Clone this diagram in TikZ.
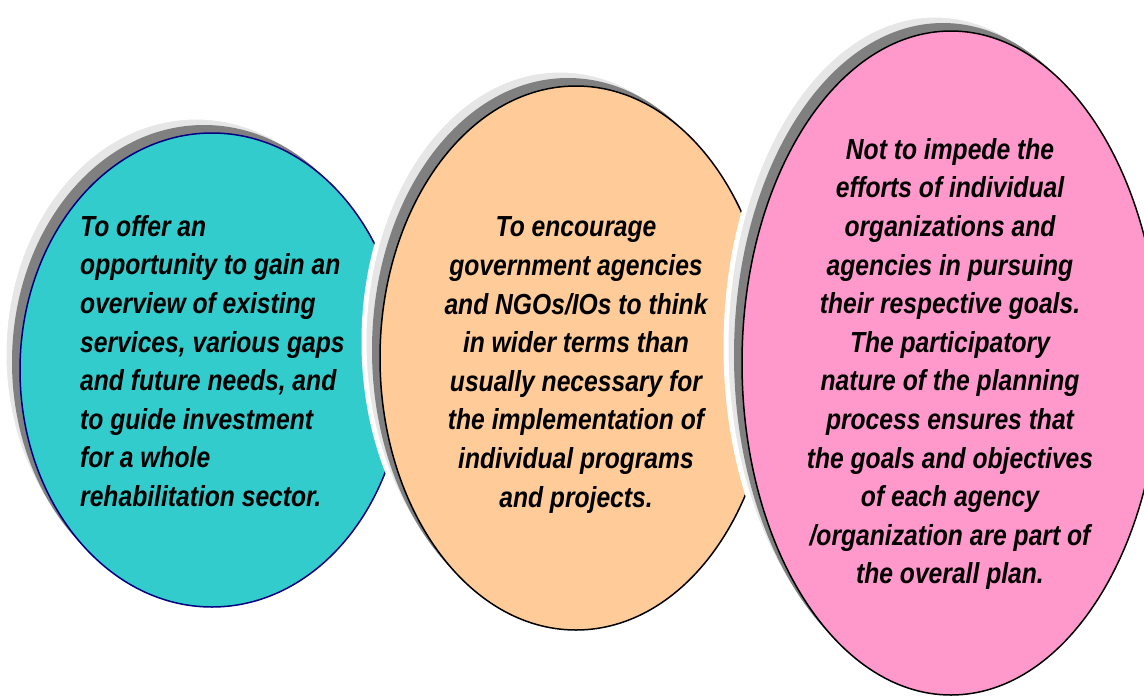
\documentclass[tikz,border=0pt]{standalone}
\usepackage{fontspec}
\setmainfont{Liberation Sans}[FakeStretch=0.85]
\usetikzlibrary{shapes.geometric}
\definecolor{tealfill}{HTML}{33CCCC}
\definecolor{orangefill}{HTML}{FFCC99}
\definecolor{pinkfill}{HTML}{FF99CC}
\definecolor{navyline}{HTML}{000080}
\definecolor{shadowdarkc}{HTML}{808080}
\definecolor{shadowlightc}{HTML}{E6E6E6}
\tikzset{
  oval/.style={ellipse, inner sep=0pt, line width=1.5pt},
  shadowdark/.style={oval, fill=shadowdarkc, draw=none},
  shadowlight/.style={oval, fill=shadowlightc, draw=white, line width=5pt},
  bubbletext/.style={inner sep=0pt, font=\fontsize{29}{38.6}\selectfont\bfseries\itshape}
}
\begin{document}
\begin{tikzpicture}[x=1pt,y=-1pt]
\useasboundingbox (0,0) rectangle (1144,697);
\clip (0,0) rectangle (1144,697);
% ellipse 1
\node[shadowlight, minimum width=384pt, minimum height=474pt] (s1b) at (196,354) {};
\node[shadowdark, minimum width=384pt, minimum height=474pt] (s1a) at (204,362) {};
\node[oval, fill=tealfill, draw=navyline, minimum width=384pt, minimum height=474pt] (e1) at (212,370) {};
% ellipse 2
\node[shadowlight, minimum width=392pt, minimum height=544pt] (s2b) at (560,342) {};
\node[shadowdark, minimum width=392pt, minimum height=544pt] (s2a) at (568,350) {};
\node[oval, fill=orangefill, draw=black, minimum width=392pt, minimum height=544pt] (e2) at (576,358) {};
% ellipse 3
\node[shadowlight, minimum width=418pt, minimum height=664pt] (s3b) at (935,347) {};
\node[shadowdark, minimum width=418pt, minimum height=664pt] (s3a) at (943,355) {};
\node[oval, fill=pinkfill, draw=black, minimum width=418pt, minimum height=664pt] (e3) at (951,363) {};
% texts
\node[bubbletext, align=left, anchor=west] (t1) at (80,361) {To offer an\\opportunity to gain an\\overview of existing\\services, various gaps\\and future needs, and\\to guide investment\\for a whole\\rehabilitation sector.};
\node[bubbletext, align=center] (t2) at (576,365) {To encourage\\government agencies\\and NGOs/IOs to think\\in wider terms than\\usually necessary for\\the implementation of\\individual programs\\and projects.};
\node[bubbletext, align=center] (t3) at (950,364) {Not to impede the\\efforts of individual\\organizations and\\agencies in pursuing\\their respective goals.\\The participatory\\nature of the planning\\process ensures that\\the goals and objectives\\of each agency\\/organization are part of\\the overall plan.};
\end{tikzpicture}
\end{document}
